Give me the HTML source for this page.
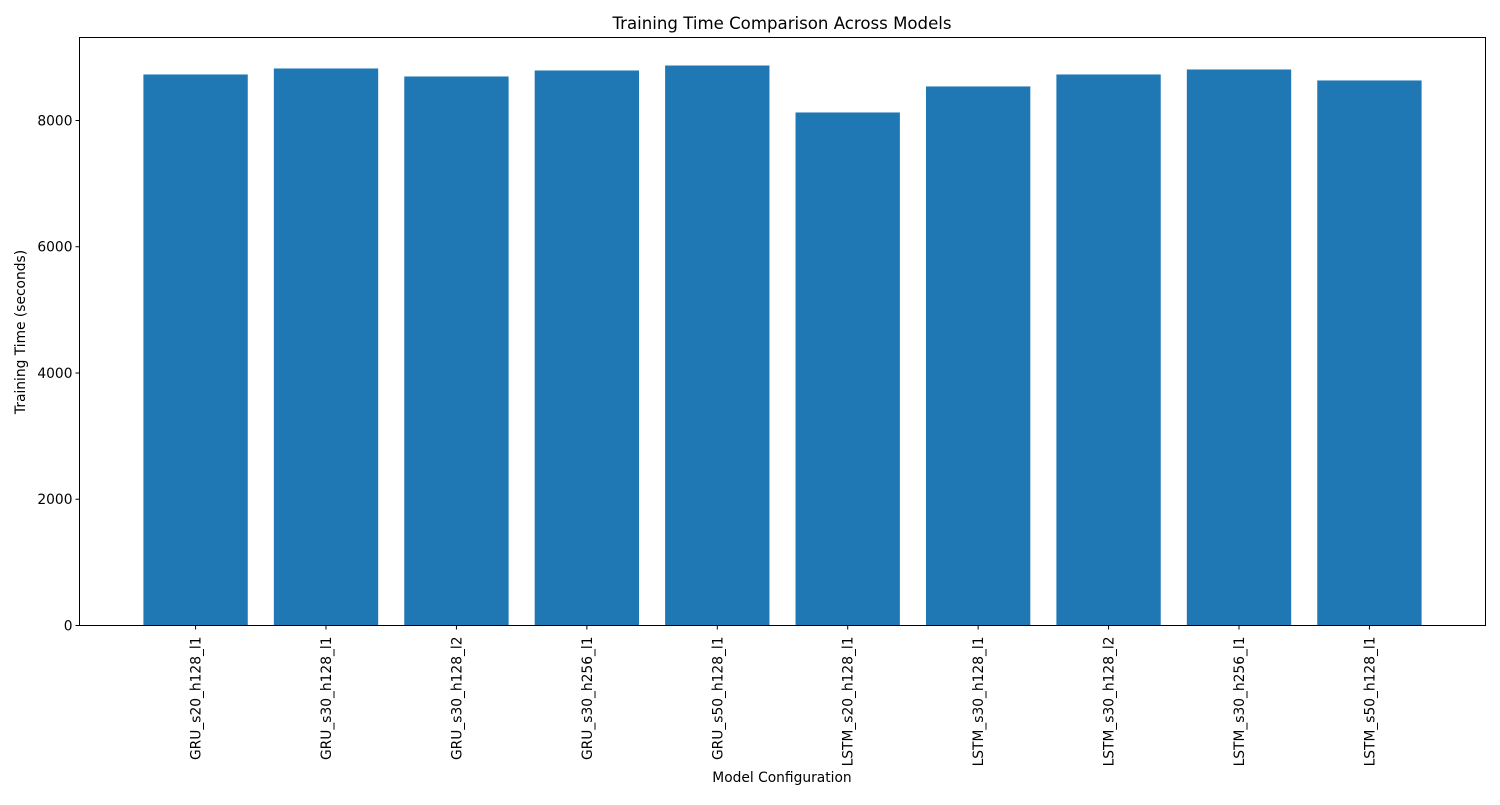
<!DOCTYPE html>
<html><head><meta charset="utf-8"><style>
body{margin:0;background:#fff;}
svg text{font-family:"DejaVu Sans","Liberation Sans",sans-serif;fill:#000;}
</style></head><body>
<svg id="chart" width="1500" height="800">
<text x="782" y="29" font-size="16.6" text-anchor="middle">Training Time Comparison Across Models</text>
<text x="782" y="782" font-size="13.8" text-anchor="middle">Model Configuration</text>
<text transform="translate(25,332) rotate(-90)" font-size="13.8" text-anchor="middle">Training Time (seconds)</text>
<g id="bars"></g><g id="xticks"></g><g id="yticks"></g>
<rect x="79.5" y="37.5" width="1406" height="588" fill="none" stroke="#000" stroke-width="1"/>
</svg>
<script>
const categories=["GRU_s20_h128_l1","GRU_s30_h128_l1","GRU_s30_h128_l2","GRU_s30_h256_l1","GRU_s50_h128_l1","LSTM_s20_h128_l1","LSTM_s30_h128_l1","LSTM_s30_h128_l2","LSTM_s30_h256_l1","LSTM_s50_h128_l1"];
const values=[8729,8824,8697,8792,8871,8127,8539,8729,8808,8634];
const yTicks=[0,2000,4000,6000,8000];
const NS="http://www.w3.org/2000/svg";
const L=79.5,R=1485.5,T=37.5,B=625.5;
const ymax=Math.max(...values)*1.05;
const n=categories.length;
const xmin=-0.4-0.05*(n-0.2),xmax=n-1+0.4+0.05*(n-0.2);
const xs=v=>L+(v-xmin)/(xmax-xmin)*(R-L);
const ys=v=>B-v/ymax*(B-T);
const bars=document.getElementById('bars'),xt=document.getElementById('xticks'),yt=document.getElementById('yticks');
function mk(t,a){const e=document.createElementNS(NS,t);for(const k in a)e.setAttribute(k,a[k]);return e;}
values.forEach((v,i)=>{
 const r=mk('rect',{x:xs(i-0.4),y:ys(v),width:xs(i+0.4)-xs(i-0.4),height:ys(0)-ys(v),fill:'#1f77b4'});
 
 
 bars.appendChild(r);
 const tk=mk('line',{x1:xs(i),x2:xs(i),y1:B,y2:B+4,stroke:'#000'});
 
 
 xt.appendChild(tk);
 const t=mk('text',{transform:`translate(${xs(i)+5},${B+11}) rotate(-90)`,'font-size':13.8,'text-anchor':'end'});
 t.textContent=categories[i];
 
 
 xt.appendChild(t);
});
yTicks.forEach(v=>{
 const tk=mk('line',{x1:L-4,x2:L,y1:ys(v),y2:ys(v),stroke:'#000'});
 
 
 yt.appendChild(tk);
 const t=mk('text',{x:L-7,y:ys(v)+5,'font-size':13.8,'text-anchor':'end'});
 t.textContent=v;
 
 
 yt.appendChild(t);
});
</script>
</body></html>
